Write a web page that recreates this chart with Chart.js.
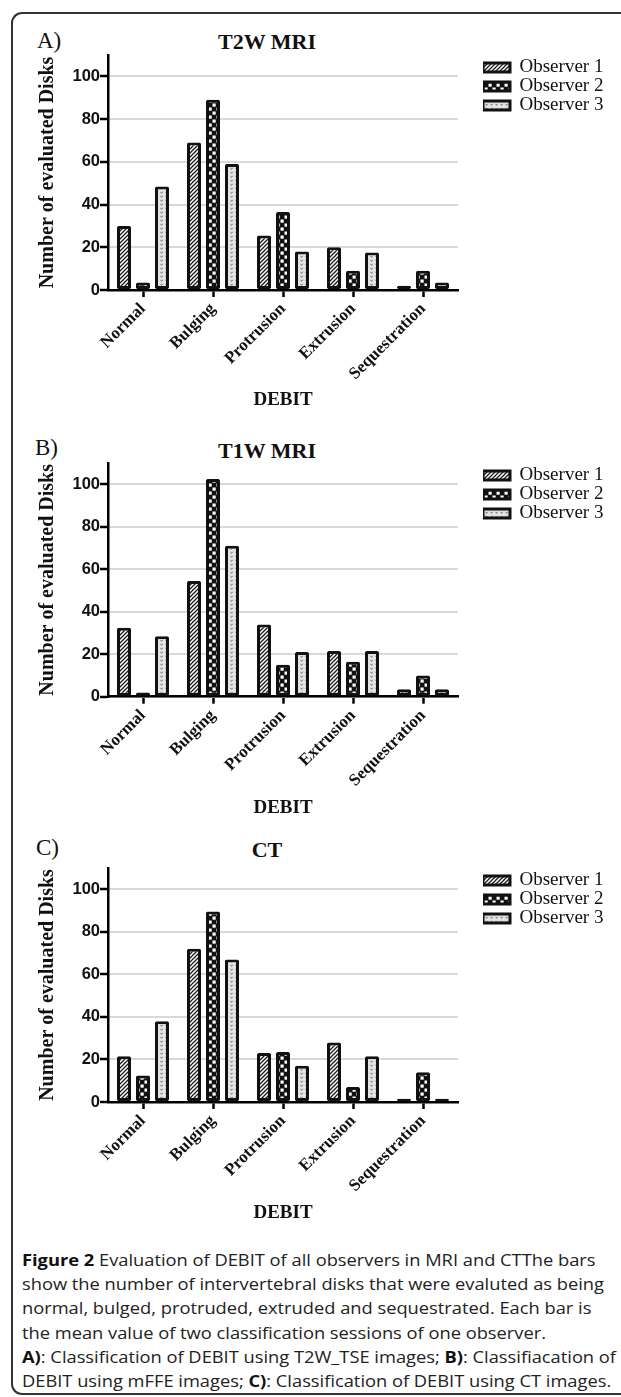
<!DOCTYPE html>
<html>
<head>
<meta charset="utf-8">
<script src="https://cdn.jsdelivr.net/npm/chart.js@4.4.1/dist/chart.umd.min.js"></script>
<style>
  html, body { margin:0; padding:0; background:#fff; }
  body { width:621px; height:1397px; position:relative; overflow:hidden; }
  #frame { position:absolute; left:11px; top:12px; width:640px; height:1383px;
           border:2px solid #333; border-right:none; border-radius:11px 0 0 11px; box-sizing:border-box; }
  .lbl { position:absolute; font-family:"Liberation Serif","Times New Roman",serif; font-size:23px; line-height:23px; color:#111; }
  .ttl { position:absolute; left:0; width:534px; text-align:center; font-family:"Liberation Serif","Times New Roman",serif;
         font-weight:bold; font-size:22px; line-height:22px; color:#111; }
  .wrap { position:absolute; left:0; width:621px; }
  #caption { position:absolute; left:22px; top:1248px; font-family:"Open Sans","Noto Sans",sans-serif; font-size:16.5px;
             color:#222; transform-origin:0 0; white-space:nowrap; }
  #caption div { height:24.2px; line-height:24.2px; }
  #caption b { color:#111; }
</style>
</head>
<body>
<div id="frame"></div>

<div class="lbl" style="left:37px;top:28.7px">A)</div>
<div class="ttl" style="top:30.6px">T2W MRI</div>
<div class="lbl" style="left:35px;top:435.7px">B)</div>
<div class="ttl" style="top:439.6px">T1W MRI</div>
<div class="lbl" style="left:36px;top:835.7px">C)</div>
<div class="ttl" style="top:838.6px">CT</div>

<div class="wrap" id="wA"><canvas id="cA"></canvas></div>
<div class="wrap" id="wB"><canvas id="cB"></canvas></div>
<div class="wrap" id="wC"><canvas id="cC"></canvas></div>

<div id="caption">
  <div><b>Figure 2</b> Evaluation of DEBIT of all observers in MRI and CTThe bars</div>
  <div><span id="measureLine">show the number of intervertebral disks that were evaluted as being</span></div>
  <div>normal, bulged, protruded, extruded and sequestrated. Each bar is</div>
  <div>the mean value of two classification sessions of one observer.</div>
  <div><b>A)</b>: Classification of DEBIT using T2W_TSE images; <b>B)</b>: Classifiacation of</div>
  <div>DEBIT using mFFE images; <b>C)</b>: Classification of DEBIT using CT images.</div>
</div>

<script>
// ---- data ----
const categories = ['Normal', 'Bulging', 'Protrusion', 'Extrusion', 'Sequestration'];
const seriesNames = ['Observer 1', 'Observer 2', 'Observer 3'];
const yTickValues = [0, 20, 40, 60, 80, 100];
const yMax = 110;

const t2wObs1 = [30, 69, 25.5, 20, 2];
const t2wObs2 = [3.5, 89, 36.5, 9, 9];
const t2wObs3 = [48.5, 59, 18, 17.5, 3.5];

const t1wObs1 = [32.5, 54.5, 34, 21.5, 3.5];
const t1wObs2 = [2, 102.5, 15, 16.5, 10];
const t1wObs3 = [28.5, 71, 21, 21.5, 3.5];

const ctObs1 = [21.5, 72, 23, 28, 1.5];
const ctObs2 = [12.5, 89.5, 23.5, 7, 14];
const ctObs3 = [38, 67, 17, 21.5, 1.5];

// ---- fit caption width ----
(function(){
  const span = document.getElementById('measureLine');
  const w = span.getBoundingClientRect().width;
  const target = 582;
  document.getElementById('caption').style.transform = 'scaleX(' + (target / w) + ')';
})();

// ---- patterns ----
function makePattern(kind) {
  const c = document.createElement('canvas');
  let ctx;
  if (kind === 'hatch') {
    c.width = 4; c.height = 4; ctx = c.getContext('2d');
    ctx.fillStyle = '#fff'; ctx.fillRect(0, 0, 4, 4);
    ctx.strokeStyle = '#1a1a1a'; ctx.lineWidth = 1.25;
    ctx.beginPath();
    ctx.moveTo(-1, 5); ctx.lineTo(5, -1);
    ctx.moveTo(-1, 1); ctx.lineTo(1, -1);
    ctx.moveTo(3, 5); ctx.lineTo(5, 3);
    ctx.stroke();
  } else if (kind === 'checker') {
    c.width = 8; c.height = 8; ctx = c.getContext('2d');
    ctx.fillStyle = '#111'; ctx.fillRect(0, 0, 8, 8);
    ctx.fillStyle = '#fff';
    ctx.fillRect(0.5, 0.5, 3.2, 3.2);
    ctx.fillRect(4.5, 4.5, 3.2, 3.2);
  } else {
    c.width = 5; c.height = 4; ctx = c.getContext('2d');
    ctx.fillStyle = '#e4e4e4'; ctx.fillRect(0, 0, 5, 4);
    ctx.strokeStyle = '#6e6e6e'; ctx.lineWidth = 0.9;
    ctx.beginPath();
    ctx.moveTo(0.5, 0.8); ctx.lineTo(1.6, 2.4); ctx.lineTo(2.7, 0.8);
    ctx.stroke();
  }
  return c.getContext('2d').createPattern(c, 'repeat');
}
const patterns = [makePattern('hatch'), makePattern('checker'), makePattern('dots')];

const SERIF = '"Liberation Serif", "Times New Roman", serif';
const SANS = '"Liberation Sans", Arial, sans-serif';

const LEGEND_X = 483;   // left edge of legend swatches
const PLOT_GAP = 25;    // gap between plot area and legend

function buildChart(wrapId, canvasId, seriesValues, chartTop, zeroY, titleCenterY) {
  const padTop = 12;
  const canvasTop = chartTop - padTop;
  const xTitleLH = 19 * 1.2;
  const canvasBottom = titleCenterY + xTitleLH / 2;
  const wrap = document.getElementById(wrapId);
  wrap.style.top = canvasTop + 'px';
  wrap.style.height = (canvasBottom - canvasTop) + 'px';
  const xScaleHeight = canvasBottom - zeroY;

  const datasets = seriesValues.map((vals, i) => ({
    label: seriesNames[i],
    data: vals,
    yAxisID: 'y',
    backgroundColor: patterns[i],
    borderColor: '#111',
    borderWidth: 3,
    borderSkipped: false,
    borderRadius: 1.5,
    categoryPercentage: 0.814,
    barPercentage: 0.737
  }));

  const chart = new Chart(document.getElementById(canvasId), {
    type: 'bar',
    data: { labels: categories, datasets },
    options: {
      responsive: true,
      maintainAspectRatio: false,
      animation: false,
      layout: { padding: { top: padTop, right: 0, bottom: 0, left: 0 } },
      plugins: {
        tooltip: { enabled: false },
        title: { display: false },
        legend: {
          display: true,
          position: 'right',
          align: 'start',
          fullSize: false,
          maxWidth: 300,
          title: { display: true, text: ' ', padding: 0, font: { size: 2.5 } },
          labels: {
            boxWidth: 27,
            boxHeight: 9,
            padding: 0,
            color: '#111',
            font: { family: SERIF, size: 19, weight: 'normal' }
          }
        }
      },
      scales: {
        x: {
          type: 'category',
          offset: true,
          grid: { display: true, drawOnChartArea: false, drawTicks: true, offset: false,
                  tickLength: 7, tickColor: '#000', tickWidth: 2.5 },
          border: { display: true, color: '#000', width: 2.5 },
          ticks: { autoSkip: false, maxRotation: 45, minRotation: 45, padding: 2, color: '#111',
                   font: { family: SERIF, size: 17, weight: 'bold' } },
          title: { display: true, text: 'DEBIT', color: '#111', padding: { top: 0, bottom: 0 },
                   font: { family: SERIF, size: 19, weight: 'bold' } },
          afterFit: s => { s.height = xScaleHeight; }
        },
        y: {
          type: 'linear',
          position: 'left',
          min: 0,
          max: yMax,
          grid: { color: '#d9d9d9', lineWidth: 2, drawTicks: true, tickLength: 8, tickColor: '#000', tickWidth: 2.5 },
          border: { display: true, color: '#000', width: 2.5 },
          ticks: { stepSize: 20, includeBounds: false, padding: 0, color: '#111',
                   font: { family: SANS, size: 16.5, weight: 'bold' } },
          afterBuildTicks: s => { s.ticks = yTickValues.map(v => ({ value: v })); },
          title: { display: true, text: 'Number of evaluated Disks', color: '#111',
                   padding: { top: 36, bottom: 0 },
                   font: { family: SERIF, size: 20, weight: 'bold' } },
          afterFit: s => { s.width = 108; }
        },
        yR: {
          type: 'linear',
          position: 'right',
          display: true,
          grid: { display: false, drawTicks: false },
          border: { display: false },
          ticks: { display: false },
          afterFit: s => { s.width = PLOT_GAP; }
        }
      }
    }
  });

  // align legend swatches with the reference position
  for (let k = 0; k < 3; k++) {
    const shift = chart.legend.left - LEGEND_X;
    const cur = chart.options.layout.padding.right || 0;
    chart.options.layout.padding = { top: padTop, right: Math.max(0, cur + shift), bottom: 0, left: 0 };
    chart.update('none');
  }
  return chart;
}

buildChart('wA', 'cA', [t2wObs1, t2wObs2, t2wObs3], 55, 290, 400);
buildChart('wB', 'cB', [t1wObs1, t1wObs2, t1wObs3], 463, 696.7, 808);
buildChart('wC', 'cC', [ctObs1, ctObs2, ctObs3], 868, 1102, 1213);
</script>
</body>
</html>
